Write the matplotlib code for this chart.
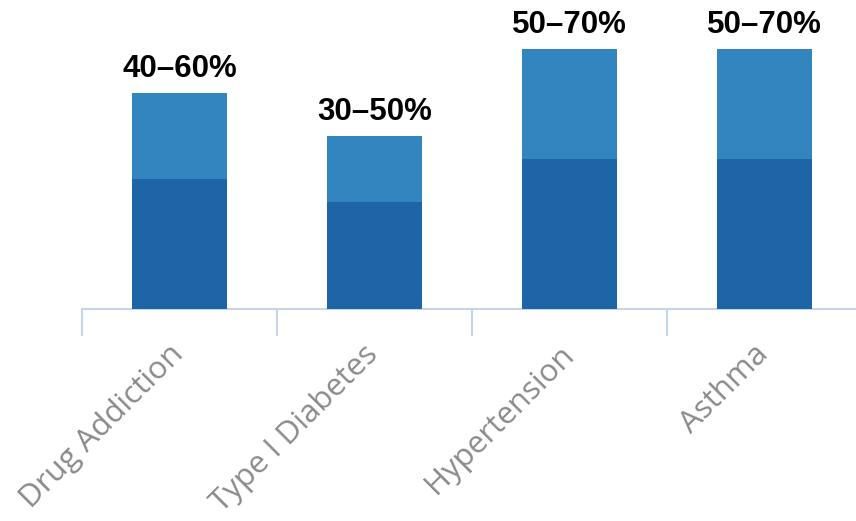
import matplotlib
matplotlib.use("Agg")
import matplotlib.pyplot as plt
from matplotlib.transforms import ScaledTranslation

# values (bar segment heights, axis units where the tallest bar = 70)
categories = ["Drug Addiction", "Type I Diabetes", "Hypertension", "Asthma"]
lower = [35.0, 28.8, 40.4, 40.4]
upper = [23.2, 17.8, 29.6, 29.6]
range_labels = ["40\u201360%", "30\u201350%", "50\u201370%", "50\u201370%"]

DARK = "#1e65a8"
LIGHT = "#3385c0"
AXIS = "#c6d4e6"

W, H = 856, 521
fig = plt.figure(figsize=(W / 100, H / 100), dpi=100)
# axes from the first tick (x=82px) to where the next would be, baseline at y=309px
ax = fig.add_axes([82 / W, 1 - 309 / H, (862 - 82) / W, 309 / H])

x = list(range(len(categories)))
ax.bar(x, lower, width=0.49, color=DARK, zorder=3)
ax.bar(x, upper, width=0.49, bottom=lower, color=LIGHT, zorder=3)

for xi, lo, up, lab in zip(x, lower, upper, range_labels):
    ax.annotate(lab, (xi, lo + up), xytext=(0, 11.5), textcoords="offset points",
                ha="center", va="baseline", fontsize=22.5, fontweight="bold",
                family="Liberation Sans", color="black")

ax.set_xlim(-0.5, 3.5)
ax.set_ylim(0, 309 / 3.714)

for side in ["top", "right", "left"]:
    ax.spines[side].set_visible(False)
ax.spines["bottom"].set_color(AXIS)
ax.spines["bottom"].set_linewidth(1.5)
ax.set_yticks([])

ax.set_xticks([i - 0.5 for i in range(len(categories) + 1)])
ax.set_xticklabels([])
ax.tick_params(axis="x", which="major", length=19.5, width=1.5, color=AXIS)
ax.set_xticks(x, minor=True)
ax.set_xticklabels(categories, minor=True, rotation=45, ha="right", va="top",
                   fontsize=22.5, family="Open Sans", color="#8a8a8a")
ax.tick_params(axis="x", which="minor", length=0, pad=22)
shift = ScaledTranslation(0.10, 0, fig.dpi_scale_trans)
for lbl in ax.get_xticklabels(minor=True):
    lbl.set_transform(lbl.get_transform() + shift)

fig.savefig("out.png", dpi=100)
